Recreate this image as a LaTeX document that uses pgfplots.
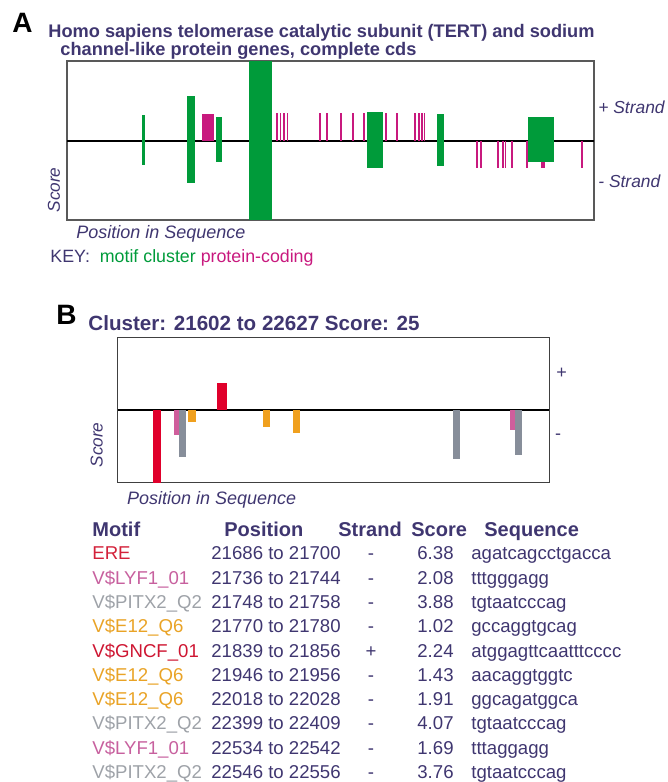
\documentclass[border=0pt]{standalone}
\usepackage{pgfplots}
\pgfplotsset{compat=1.18}
\usepackage{fontspec}
\setmainfont{Liberation Sans}
\definecolor{txt}{HTML}{3F3670}
\definecolor{mgreen}{HTML}{009B3A}
\definecolor{mmag}{HTML}{C8197E}
\definecolor{bred}{HTML}{E0002B}
\definecolor{bpink}{HTML}{CF5E9C}
\definecolor{bgray}{HTML}{878E9A}
\definecolor{borange}{HTML}{F0A01E}
\definecolor{tred}{HTML}{D3213A}
\definecolor{tpink}{HTML}{C7609E}
\definecolor{tgray}{HTML}{9EA2A8}
\definecolor{torange}{HTML}{E9A326}
\definecolor{tred2}{HTML}{CE1632}
\newcommand\fs[1]{\fontsize{#1}{#1}\selectfont}
\newcommand\trow[7]{%
  \node[anchor=base west, text=#2, inner sep=0pt] at (92,{782-#1}) {\fs{9.3}#3};
  \node[anchor=base west, text=txt, inner sep=0pt] at (211,{782-#1}) {\fs{9.3}#4};
  \node[anchor=base, text=txt, inner sep=0pt] at (371,{782-#1}) {\fs{9.3}#5};
  \node[anchor=base east, text=txt, inner sep=0pt] at (454,{782-#1}) {\fs{9.3}#6};
  \node[anchor=base west, text=txt, inner sep=0pt] at (471,{782-#1}) {\fs{9.3}#7};
}
\begin{document}
\begin{tikzpicture}[x=0.5pt,y=0.5pt]
\useasboundingbox (0,0) rectangle (668,782);
% ---------------- Panel A ----------------
\begin{axis}[at={(33.5pt,281pt)}, anchor=south west, scale only axis,
  width=263.5pt, height=79.5pt, xmin=67, xmax=594, ymin=-79, ymax=80,
  xtick=\empty, ytick=\empty,
  axis line style={draw=black!65, line width=0.7pt}]
\addplot[black, line width=0.75pt] coordinates {(67,0) (594,0)};
% protein-coding, + strand
\addplot[ycomb, mmag, line width=0.85pt, mark=none] coordinates {
 (277,27.5) (280.5,27.5) (284,27.5) (287.5,27.5) (320,27.5) (327,27.5)
 (341,27.5) (353,27.5) (364,27.5) (386,27.5) (397,27.5) (415,27.5)
 (419,27.5) (422,27.5) (424.5,27.5)};
% protein-coding, - strand
\addplot[ycomb, mmag, line width=0.85pt, mark=none] coordinates {
 (477,-27) (481,-27) (498,-27) (503,-27) (505.5,-27) (512,-27)
 (527,-27) (542,-27) (544,-27) (582,-27)};
\addplot[fill=mmag, draw=none] coordinates {(202,0) (214,0) (214,27) (202,27)} -- cycle;
% motif clusters
\addplot[fill=mgreen, draw=none] coordinates {(141.5,-24) (144.5,-24) (144.5,26) (141.5,26)} -- cycle;
\addplot[fill=mgreen, draw=none] coordinates {(187,-42) (195,-42) (195,45) (187,45)} -- cycle;
\addplot[fill=mgreen, draw=none] coordinates {(216,-21) (222,-21) (222,24) (216,24)} -- cycle;
\addplot[fill=mgreen, draw=none] coordinates {(249,-79) (272,-79) (272,80) (249,80)} -- cycle;
\addplot[fill=mgreen, draw=none] coordinates {(367,-27) (383,-27) (383,29) (367,29)} -- cycle;
\addplot[fill=mgreen, draw=none] coordinates {(437,-25) (444,-25) (444,27) (437,27)} -- cycle;
\addplot[fill=mgreen, draw=none] coordinates {(528,-21) (554,-21) (554,24) (528,24)} -- cycle;
\end{axis}
% ---------------- Panel B ----------------
\begin{axis}[at={(58.85pt,149.65pt)}, anchor=south west, scale only axis,
  width=215.8pt, height=72.6pt, xmin=21602, xmax=22627, ymin=-6.06, ymax=6.04,
  xtick=\empty, ytick=\empty,
  axis line style={draw=black!75, line width=0.7pt}]
\addplot[black, line width=1pt] coordinates {(21602,0) (22627,0)};
\addplot[fill=bred, draw=none] coordinates {(21686,0) (21706,0) (21706,-6.38) (21686,-6.38)} -- cycle;
\addplot[fill=bpink, draw=none] coordinates {(21736,0) (21750,0) (21750,-2.08) (21736,-2.08)} -- cycle;
\addplot[fill=bgray, draw=none] coordinates {(21748,0) (21764,0) (21764,-3.88) (21748,-3.88)} -- cycle;
\addplot[fill=borange, draw=none] coordinates {(21770,0) (21788,0) (21788,-1.02) (21770,-1.02)} -- cycle;
\addplot[fill=bred, draw=none] coordinates {(21839,0) (21862,0) (21862,2.24) (21839,2.24)} -- cycle;
\addplot[fill=borange, draw=none] coordinates {(21946,0) (21964,0) (21964,-1.43) (21946,-1.43)} -- cycle;
\addplot[fill=borange, draw=none] coordinates {(22018,0) (22036,0) (22036,-1.91) (22018,-1.91)} -- cycle;
\addplot[fill=bgray, draw=none] coordinates {(22399,0) (22415,0) (22415,-4.07) (22399,-4.07)} -- cycle;
\addplot[fill=bpink, draw=none] coordinates {(22534,0) (22548,0) (22548,-1.69) (22534,-1.69)} -- cycle;
\addplot[fill=bgray, draw=none] coordinates {(22546,0) (22562,0) (22562,-3.76) (22546,-3.76)} -- cycle;
\end{axis}
% ---------------- Texts A ----------------
\node[anchor=base west, inner sep=0pt] at (12,{782-33}) {\fs{14}\bfseries A};
\node[anchor=base west, inner sep=0pt, text=txt] at (48,{782-37.3}) {\fs{9.1}\bfseries Homo sapiens telomerase catalytic subunit (TERT) and sodium};
\node[anchor=base west, inner sep=0pt, text=txt] at (60,{782-56}) {\fs{9.1}\bfseries channel-like protein genes, complete cds};
\node[anchor=base west, inner sep=0pt, text=txt] at (598,{782-114}) {\fs{8.7}\itshape + Strand};
\node[anchor=base west, inner sep=0pt, text=txt] at (598,{782-188}) {\fs{8.7}\itshape - Strand};
\node[rotate=90, inner sep=0pt, text=txt] at (54,{782-190}) {\fs{8.6}\itshape Score};
\node[anchor=base west, inner sep=0pt, text=txt] at (76,{782-238.5}) {\fs{9}\itshape Position in Sequence};
\node[anchor=base west, inner sep=0pt, text=txt] at (50,{782-263}) {\fs{8.9}KEY:\ \ \textcolor{mgreen}{motif cluster} \textcolor{mmag}{protein-coding}};
% ---------------- Texts B ----------------
\node[anchor=base west, inner sep=0pt] at (56,{782-325}) {\fs{14}\bfseries B};
\node[anchor=base west, inner sep=0pt, text=txt] at (88,{782-330.7}) {\fs{10.3}\bfseries Cluster: 21602 to 22627 Score: 25};
\node[inner sep=0pt, text=txt] at (561.7,{782-373.3}) {\fs{9}+};
\node[inner sep=0pt, text=txt] at (558,{782-437}) {\fs{9}-};
\node[rotate=90, inner sep=0pt, text=txt] at (96.7,{782-445}) {\fs{8.6}\itshape Score};
\node[anchor=base west, inner sep=0pt, text=txt] at (126.7,{782-504.5}) {\fs{9}\itshape Position in Sequence};
% ---------------- Table ----------------
\node[anchor=base west, inner sep=0pt, text=txt] at (92,{782-536.7}) {\fs{10}\bfseries Motif};
\node[anchor=base west, inner sep=0pt, text=txt] at (224,{782-536.7}) {\fs{10}\bfseries Position};
\node[anchor=base west, inner sep=0pt, text=txt] at (338,{782-536.7}) {\fs{10}\bfseries Strand};
\node[anchor=base west, inner sep=0pt, text=txt] at (411,{782-536.7}) {\fs{10}\bfseries Score};
\node[anchor=base west, inner sep=0pt, text=txt] at (484,{782-536.7}) {\fs{10}\bfseries Sequence};
\trow{560}{tred}{ERE}{21686 to 21700}{-}{6.38}{agatcagcctgacca}
\trow{584.3}{tpink}{V\$LYF1\_01}{21736 to 21744}{-}{2.08}{tttgggagg}
\trow{608.6}{tgray}{V\$PITX2\_Q2}{21748 to 21758}{-}{3.88}{tgtaatcccag}
\trow{632.9}{torange}{V\$E12\_Q6}{21770 to 21780}{-}{1.02}{gccaggtgcag}
\trow{657.2}{tred2}{V\$GNCF\_01}{21839 to 21856}{+}{2.24}{atggagttcaatttcccc}
\trow{681.5}{torange}{V\$E12\_Q6}{21946 to 21956}{-}{1.43}{aacaggtggtc}
\trow{705.8}{torange}{V\$E12\_Q6}{22018 to 22028}{-}{1.91}{ggcagatggca}
\trow{730}{tgray}{V\$PITX2\_Q2}{22399 to 22409}{-}{4.07}{tgtaatcccag}
\trow{754.4}{tpink}{V\$LYF1\_01}{22534 to 22542}{-}{1.69}{tttaggagg}
\trow{778.7}{tgray}{V\$PITX2\_Q2}{22546 to 22556}{-}{3.76}{tgtaatcccag}
\end{tikzpicture}
\end{document}
